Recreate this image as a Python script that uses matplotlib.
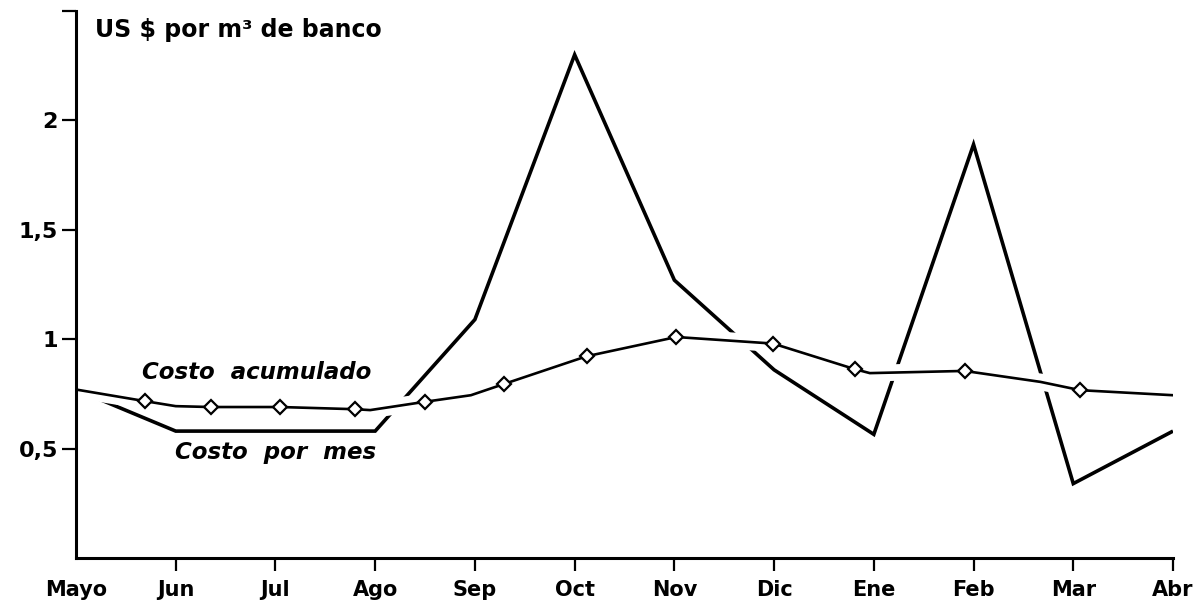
import matplotlib
matplotlib.use("Agg")
import matplotlib.pyplot as plt
import matplotlib.patheffects as pe

# meses del eje x
meses = ["Mayo", "Jun", "Jul", "Ago", "Sep", "Oct", "Nov", "Dic", "Ene", "Feb", "Mar", "Abr"]

# costo por mes (US $ por m3 de banco), un valor por mes
costo_mes = [0.77, 0.58, 0.58, 0.58, 1.09, 2.30, 1.27, 0.86, 0.565, 1.89, 0.34, 0.58]

# costo acumulado: posiciones (en meses desde Mayo) y valores
acum_pos = [0, 0.69, 1.0, 1.35, 2.05, 2.80, 2.95, 3.50, 3.96, 4.29, 5.12, 6.02,
            6.99, 7.81, 7.96, 8.91, 9.67, 10.07, 11]
acum_val = [0.77, 0.717, 0.694, 0.69, 0.69, 0.68, 0.676, 0.714, 0.744, 0.795, 0.922, 1.01,
            0.98, 0.863, 0.845, 0.855, 0.805, 0.767, 0.744]
# puntos marcados con rombos
acum_marcas = [1, 3, 4, 5, 7, 9, 10, 11, 12, 13, 15, 17]

y_ticks = [0.5, 1, 1.5, 2, 2.5]
y_labels = ["0,5", "1", "1,5", "2", ""]

fig = plt.figure(figsize=(12.03, 6.10), dpi=100)
ax = fig.add_axes([76 / 1203, 52 / 610, 1097 / 1203, 547 / 610])

x_mes = list(range(len(meses)))

# linea del costo mensual (se corta donde pasa bajo la acumulada)
ax.plot(x_mes, costo_mes, color="black", lw=2.6, solid_capstyle="butt",
        solid_joinstyle="miter", zorder=2)

# linea acumulada con un halo blanco que interrumpe la otra linea
ax.plot(acum_pos, acum_val, color="black", lw=1.9, zorder=3,
        path_effects=[pe.Stroke(linewidth=12, foreground="white"), pe.Normal()])
ax.plot([acum_pos[i] for i in acum_marcas], [acum_val[i] for i in acum_marcas],
        linestyle="none", marker="D", markersize=7.5, markerfacecolor="white",
        markeredgecolor="black", markeredgewidth=1.6, zorder=4)

ax.set_xlim(0, 11)
ax.set_ylim(0, 2.5)

for s in ["top", "right"]:
    ax.spines[s].set_visible(False)
for s in ["left", "bottom"]:
    ax.spines[s].set_linewidth(2.2)
    ax.spines[s].set_zorder(5)

ax.set_xticks(x_mes)
ax.set_xticklabels(meses, fontsize=15, fontweight="bold", family="DejaVu Sans")
ax.set_yticks(y_ticks)
ax.set_yticklabels(y_labels, fontsize=16, fontweight="bold", family="DejaVu Sans")
ax.tick_params(axis="x", length=9, width=1.6, pad=7, direction="out")
ax.tick_params(axis="y", length=10, width=1.6, pad=3, direction="out")
ax.xaxis.get_major_ticks()[0].tick1line.set_visible(False)

ax.text(0.19, 2.415, "US $ por m³ de banco", fontsize=17, fontweight="bold",
        va="center", ha="left")
ax.text(1.81, 0.85, "Costo  acumulado", fontsize=16.5, fontweight="bold",
        style="italic", ha="center", va="center")
ax.text(2.0, 0.484, "Costo  por  mes", fontsize=16.5, fontweight="bold",
        style="italic", ha="center", va="center")

fig.savefig("out.png", dpi=100)
